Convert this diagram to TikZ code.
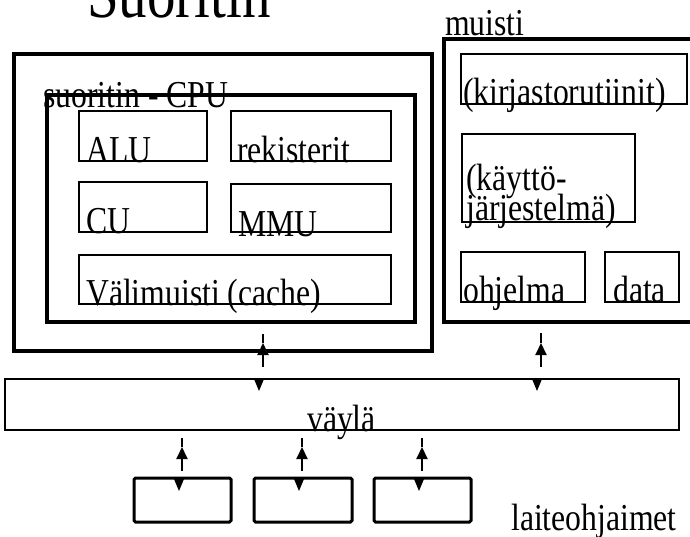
\documentclass[tikz,border=0pt]{standalone}
\usepackage{fontspec}
\setmainfont{Liberation Serif}
\usetikzlibrary{arrows.meta}
\newcommand\vstretch[1]{\scalebox{1}[1.2]{#1}}
\begin{document}
\begin{tikzpicture}[x=1pt,y=-1pt,
  thickbox/.style={draw,line width=3.3pt},
  thinbox/.style={draw,line width=1.4pt},
  devbox/.style={draw,line width=3pt,rounded corners=1.5pt},
  lbl/.style={anchor=base west,inner sep=0pt,font=\fontsize{31.7}{36}\selectfont},
  conn/.style={line width=2pt},
  uptip/.style={conn,-{Triangle[width=11pt,length=12pt]}},
  downtri/.style={fill=black}
]
\useasboundingbox (0,0) rectangle (690,536);
% title
\node[anchor=base west,inner sep=0pt,font=\fontsize{57}{60}\selectfont] (title) at (87,17) {\vstretch{Suoritin}};
% CPU outer and inner
\draw[thickbox] (14,54) rectangle (432,351);
\draw[thickbox] (47,95) rectangle (415,322);
\node[lbl] (cpulbl) at (43,107) {\vstretch{suoritin - CPU}};
% units
\draw[thinbox] (79,111) rectangle (207,161);
\node[lbl] (alu) at (86,162) {\vstretch{ALU}};
\draw[thinbox] (231,111) rectangle (391,161);
\node[lbl] (rek) at (237,162) {\vstretch{rekisterit}};
\draw[thinbox] (79,182) rectangle (207,232);
\node[lbl] (cu) at (86,233) {\vstretch{CU}};
\draw[thinbox] (231,184) rectangle (391,232);
\node[lbl] (mmu) at (238,236) {\vstretch{MMU}};
\draw[thinbox] (79,255) rectangle (391,304);
\node[lbl] (cache) at (86,305) {\vstretch{Välimuisti (cache)}};
% memory
\node[lbl] (muisti) at (445,35) {\vstretch{muisti}};
\draw[thickbox] (444,39) rectangle (702,322);
\draw[thinbox] (461,54) rectangle (687,104);
\node[lbl] (kirj) at (463,104) {\vstretch{(kirjastorutiinit)}};
\draw[thinbox] (462,134) rectangle (635,222);
\node[lbl] (kay1) at (466,190) {\vstretch{(käyttö-}};
\node[lbl] (kay2) at (466,220) {\vstretch{järjestelmä)}};
\draw[thinbox] (461,252) rectangle (585,302);
\node[lbl] (ohj) at (463,302) {\vstretch{ohjelma}};
\draw[thinbox] (605,252) rectangle (679,302);
\node[lbl] (data) at (613,302) {\vstretch{data}};
% bus
\draw[thinbox] (5,379) rectangle (679,430);
\node[lbl] (bus) at (307,431) {\vstretch{väylä}};
% devices
\draw[devbox] (134,478) rectangle (231,522);
\draw[devbox] (254,478) rectangle (352,522);
\draw[devbox] (374,478) rectangle (471,522);
\node[lbl] (dev) at (511,530) {\vstretch{laiteohjaimet}};
% connectors (floating double arrows)
\foreach \n/\x/\dx/\ya/\yb/\yt/\yd in {cpu/263/259/334/367/343/379, mem/541/537/333/367/343/379,
  d1/182/179/438/471/447/479, d2/302/299/438/471/447/479, d3/422/419/438/471/447/479}{
  \coordinate (\n top) at (\x,\ya);
  \coordinate (\n bot) at (\x,\yb);
  \coordinate (\n tip) at (\x,\yt);
  \draw[uptip] (\n bot) -- (\n tip);
  \draw[conn] (\n tip) -- (\n top);
  \fill[downtri] (\dx-5,\yd) -- (\dx+5,\yd) -- (\dx,\yd+12) -- cycle;
}
\end{tikzpicture}
\end{document}
